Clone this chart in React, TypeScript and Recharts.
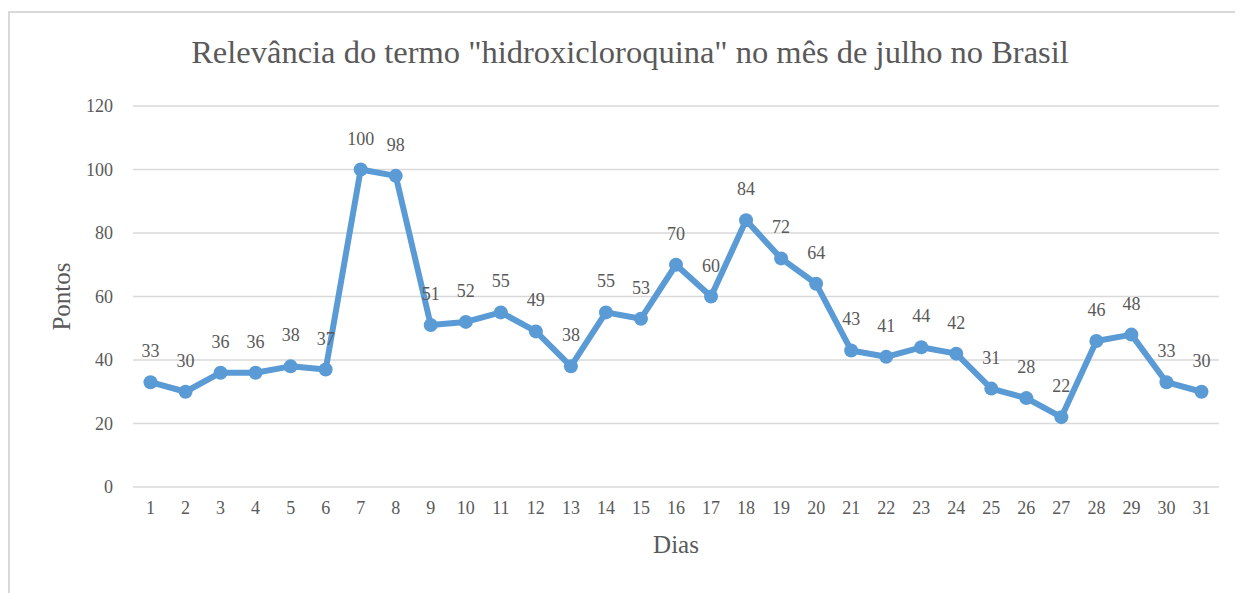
import React from "react";
import {
  CartesianGrid,
  Label,
  LabelList,
  Line,
  LineChart,
  XAxis,
  YAxis,
} from "recharts";

const DAYS = [
  "1", "2", "3", "4", "5", "6", "7", "8", "9", "10", "11", "12", "13", "14", "15", "16",
  "17", "18", "19", "20", "21", "22", "23", "24", "25", "26", "27", "28", "29", "30", "31",
];
const POINTS = [
  33, 30, 36, 36, 38, 37, 100, 98, 51, 52, 55, 49, 38, 55, 53, 70, 60, 84, 72, 64, 43, 41,
  44, 42, 31, 28, 22, 46, 48, 33, 30,
];
const Y_TICKS = [0, 20, 40, 60, 80, 100, 120];

const TITLE = 'Relevância do termo "hidroxicloroquina" no mês de julho no Brasil';

const FONT = "'Liberation Serif', 'Times New Roman', serif";
const TEXT = "#595959";
const BLUE = "#5b9bd5";

const data = DAYS.map((d, i) => ({ dia: d, pontos: POINTS[i] }));

export default function App() {
  return (
    <div
      style={{
        position: "relative",
        marginTop: 3,
        width: 1240,
        height: 600,
        border: "2px solid #d9d9d9",
        fontFamily: FONT,
      }}
    >
      <div
        style={{
          position: "absolute",
          top: 21,
          left: 0,
          width: 1240,
          textAlign: "center",
          fontSize: 32.5,
          color: TEXT,
        }}
      >
        {TITLE}
      </div>
      <LineChart
        width={1235}
        height={580}
        data={data}
        margin={{ top: 93, right: 26, bottom: 0, left: 0 }}
        style={{ fontFamily: FONT }}
      >
        <CartesianGrid vertical={false} stroke="#d9d9d9" strokeWidth={1.5} />
        <XAxis
          dataKey="dia"
          axisLine={false}
          tickLine={false}
          tickSize={0}
          tickMargin={14}
          height={106}
          interval={0}
          padding={{ left: 17.5, right: 17.5 }}
          tick={{ fill: TEXT, fontSize: 18, style: { fontFamily: FONT } }}
        >
          <Label
            value="Dias"
            position="insideBottom"
            offset={40}
            style={{ fill: TEXT, fontSize: 25, fontFamily: FONT }}
          />
        </XAxis>
        <YAxis
          domain={[0, 120]}
          ticks={Y_TICKS}
          axisLine={false}
          tickLine={false}
          tickSize={0}
          tickMargin={20}
          width={123}
          tick={{ fill: TEXT, fontSize: 18, style: { fontFamily: FONT } }}
        >
          <Label
            value="Pontos"
            angle={-90}
            position="center"
            dx={-10}
            style={{ fill: TEXT, fontSize: 25, fontFamily: FONT }}
          />
        </YAxis>
        <Line
          dataKey="pontos"
          stroke={BLUE}
          strokeWidth={6}
          strokeLinejoin="round"
          dot={{ r: 7, fill: BLUE, stroke: BLUE, strokeWidth: 0 }}
          isAnimationActive={false}
        >
          <LabelList
            dataKey="pontos"
            position="top"
            offset={25}
            style={{ fill: TEXT, fontSize: 18, fontFamily: FONT }}
          />
        </Line>
      </LineChart>
    </div>
  );
}
